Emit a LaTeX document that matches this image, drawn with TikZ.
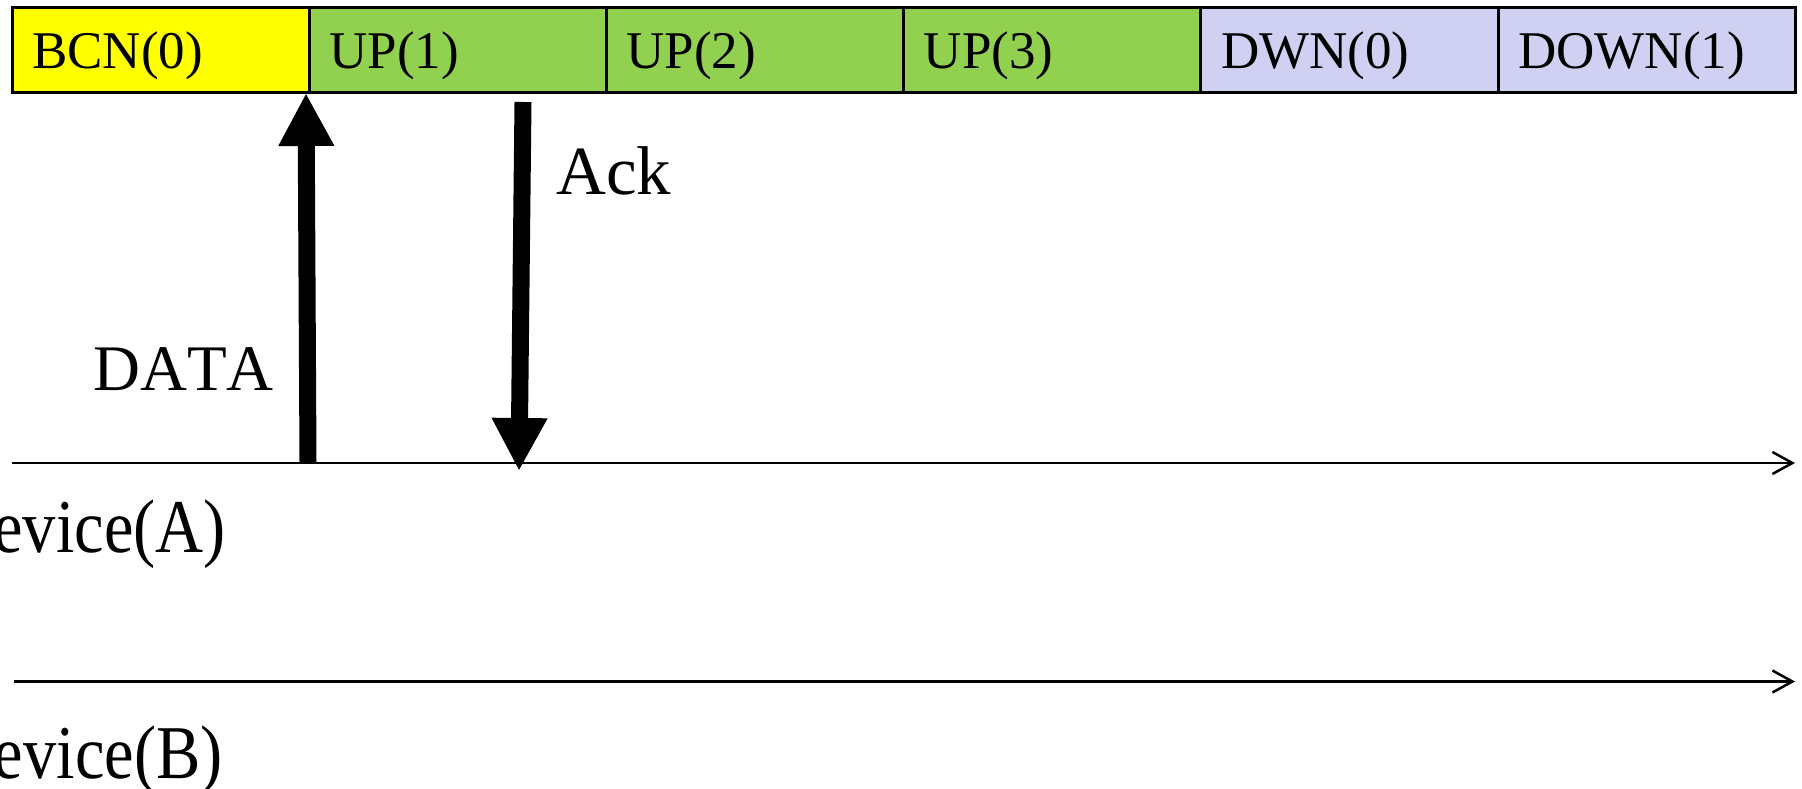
\documentclass[tikz,border=0pt]{standalone}
\usepackage{fontspec}
\setmainfont{LiberationSerif}[Extension=.ttf, UprightFont=*-Regular, BoldFont=*-Bold, Kerning=Off]
\usetikzlibrary{arrows.meta}

\definecolor{bcnyellow}{HTML}{FFFF00}
\definecolor{upgreen}{HTML}{92D050}
\definecolor{dwnlavender}{HTML}{D0D1F2}

\tikzset{
  slotcell/.style={draw=black, line width=3pt, anchor=north west,
    minimum width=297.2pt, minimum height=85.4pt, inner sep=0pt, outer sep=0pt},
  slottext/.style={anchor=base west, inner sep=0pt, font=\rmfamily\fontsize{53pt}{60pt}\selectfont},
  devtext/.style={anchor=base east, inner sep=0pt, xscale=0.875, transform shape,
    font=\rmfamily\fontsize{76pt}{84pt}\selectfont},
  timeline/.style={line width=2.5pt, -{Straight Barb[length=20pt,width=22pt]}},
  msgarrow/.style={line width=17pt, -{Triangle[width=52pt,length=53pt]}}
}

\begin{document}
\begin{tikzpicture}[x=1pt, y=-1pt]
  \useasboundingbox (0,0) rectangle (1802,789);
  \clip (0,0) rectangle (1802,789);

  % superframe slots
  \node[slotcell, fill=bcnyellow]   (c0) at (12,7.3)     {};
  \node[slotcell, fill=upgreen]     (c1) at (309.2,7.3)  {};
  \node[slotcell, fill=upgreen]     (c2) at (606.4,7.3)  {};
  \node[slotcell, fill=upgreen]     (c3) at (903.6,7.3)  {};
  \node[slotcell, fill=dwnlavender] (c4) at (1200.8,7.3) {};
  \node[slotcell, fill=dwnlavender] (c5) at (1498,7.3)   {};

  \node[slottext] (t0) at (32,68.3)     {BCN(0)};
  \node[slottext] (t1) at (329.2,68.3)  {UP(1)};
  \node[slottext] (t2) at (626.4,68.3)  {UP(2)};
  \node[slottext] (t3) at (923.6,68.3)  {UP(3)};
  \node[slottext] (t4) at (1220.8,68.3) {DWN(0)};
  \node[slottext] (t5) at (1518,68.3)   {DOWN(1)};

  % device time lines
  \coordinate (a0) at (12,463);
  \coordinate (a1) at (1795,463);
  \coordinate (b0) at (14,681.5);
  \coordinate (b1) at (1795,681.5);
  \draw[timeline] (a0) -- (a1);
  \draw[timeline] (b0) -- (b1);

  \node[devtext] (devA) at (226,552) {Device(A)};
  \node[devtext] (devB) at (223,778) {Device(B)};

  % data frame up to the beacon, acknowledgement back down
  \coordinate (dataFrom) at (308,462);
  \coordinate (dataTo)   at (306,93);
  \coordinate (ackFrom)  at (523,102);
  \coordinate (ackTo)    at (519,471);
  \draw[msgarrow] (dataFrom) -- (dataTo);
  \draw[msgarrow] (ackFrom) -- (ackTo);

  \node[anchor=base west, inner sep=0pt, font=\rmfamily\fontsize{65pt}{72pt}\selectfont]
    (data) at (93,390) {DATA};
  \node[anchor=base west, inner sep=0pt, font=\rmfamily\fontsize{69pt}{76pt}\selectfont]
    (ack) at (556,194) {Ack};
\end{tikzpicture}
\end{document}
